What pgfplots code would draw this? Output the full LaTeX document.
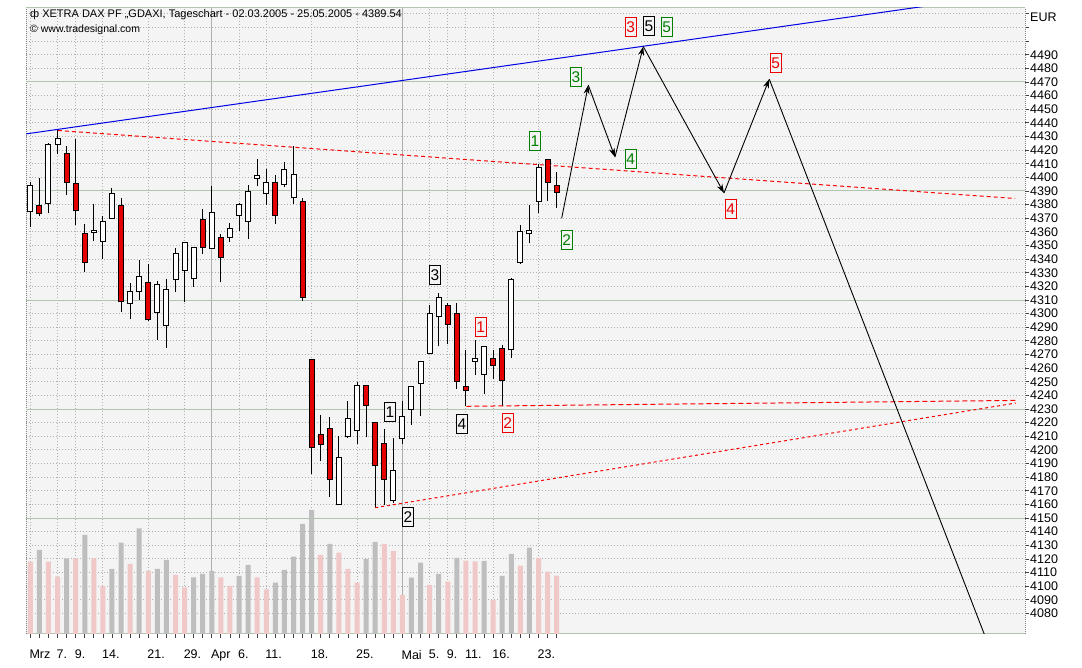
\documentclass[border=0pt]{standalone}
\usepackage{fontspec}
\setmainfont{Liberation Sans}
\usepackage{pgfplots}
\pgfplotsset{compat=1.18}
\usepackage{pgfplotstable}
\usetikzlibrary{arrows.meta}

\definecolor{plotbg}{RGB}{244,244,244}
\definecolor{gridgreen}{RGB}{176,196,176}
\definecolor{griddot}{RGB}{175,175,175}
\definecolor{vgrid}{RGB}{175,175,175}
\definecolor{volpink}{RGB}{240,200,200}
\definecolor{volgray}{RGB}{190,190,190}
\definecolor{candred}{RGB}{228,0,0}
\definecolor{waveblue}{RGB}{0,0,230}
\definecolor{wavegreen}{RGB}{0,128,0}
\definecolor{wavered}{RGB}{235,0,0}

% i = trading day (0 = 02.03.2005), O H L C
\pgfplotstableread{
i O H L C
0 4375.0 4396.6 4363.8 4393.5
1 4378.7 4399.8 4371.3 4373.7
2 4381.1 4424.9 4373.7 4423.7
3 4424.5 4435.1 4417.4 4428.3
4 4416.9 4423.2 4387.3 4396.6
5 4395.3 4428.3 4365.0 4375.7
6 4358.1 4365.6 4330.5 4337.9
7 4360.1 4380.4 4353.5 4360.7
8 4353.5 4371.3 4339.9 4367.6
9 4370.5 4392.3 4370.0 4387.8
10 4378.7 4384.8 4301.1 4309.1
11 4307.6 4322.4 4295.7 4315.7
12 4316.4 4339.6 4310.0 4326.8
13 4322.4 4336.7 4294.9 4295.7
14 4301.1 4324.3 4280.9 4320.9
15 4291.3 4325.6 4275.1 4317.4
16 4325.3 4347.8 4315.7 4344.1
17 4332.2 4352.2 4308.3 4352.2
18 4326.1 4347.8 4319.9 4347.8
19 4368.7 4376.7 4344.1 4349.0
20 4347.8 4393.5 4347.8 4373.7
21 4355.7 4358.1 4323.1 4341.6
22 4356.4 4366.8 4352.7 4362.4
23 4372.7 4381.1 4360.6 4379.6
24 4368.3 4394.3 4354.7 4389.3
25 4399.6 4413.6 4393.5 4401.1
26 4388.5 4405.8 4379.8 4395.8
27 4395.8 4402.1 4365.8 4372.2
28 4395.1 4411.1 4393.0 4405.6
29 4385.3 4423.2 4380.6 4401.8
30 4381.6 4384.8 4309.1 4312.0
31 4265.9 4265.9 4182.4 4202.1
32 4211.2 4225.5 4192.1 4204.5
33 4215.7 4224.3 4165.7 4178.4
34 4160.5 4210.5 4159.8 4193.8
35 4210.0 4235.6 4208.6 4222.9
36 4214.8 4250.1 4204.5 4247.2
37 4247.2 4247.2 4209.8 4233.1
38 4219.8 4219.8 4157.6 4189.1
39 4204.5 4215.7 4159.3 4178.4
40 4162.9 4208.6 4160.9 4184.8
41 4208.6 4235.6 4204.5 4224.1
42 4230.0 4245.8 4218.1 4245.8
43 4249.4 4264.7 4224.8 4264.7
44 4271.2 4306.4 4271.2 4299.8
45 4297.9 4315.0 4276.0 4311.3
46 4305.4 4307.6 4278.0 4292.5
47 4299.8 4307.6 4244.8 4250.9
48 4246.5 4273.6 4232.0 4244.0
49 4265.4 4280.9 4254.7 4266.9
50 4255.7 4275.6 4241.1 4275.6
51 4266.9 4273.6 4252.0 4262.2
52 4273.9 4277.3 4232.0 4251.3
53 4273.9 4326.1 4267.8 4324.8
54 4337.9 4365.0 4336.7 4360.1
55 4358.9 4379.8 4351.5 4360.9
56 4382.8 4409.8 4374.2 4406.8
57 4412.4 4413.6 4382.4 4396.6
58 4394.0 4404.1 4377.4 4389.54
}\candles

% volume (relative heights), g = 1 grey bar, 0 pink bar
\pgfplotstableread{
i v g
0 72.3 0
1 84.0 1
2 72.3 0
3 57.3 0
4 75.7 1
5 75.7 0
6 99.0 1
7 75.7 0
8 48.0 0
9 65.0 1
10 91.3 1
11 70.0 0
12 105.7 1
13 63.0 0
14 65.0 1
15 74.0 1
16 59.0 0
17 46.7 0
18 56.7 1
19 60.0 1
20 63.0 1
21 56.7 0
22 48.0 0
23 58.0 1
24 69.0 1
25 56.7 0
26 44.7 0
27 51.3 1
28 64.0 1
29 77.3 1
30 110.0 1
31 124.0 1
32 79.0 0
33 90.0 1
34 81.3 0
35 65.0 0
36 51.3 0
37 75.0 1
38 92.0 1
39 90.0 0
40 83.0 0
41 39.0 0
42 56.3 1
43 71.3 1
44 49.0 0
45 60.0 1
46 52.3 0
47 76.0 1
48 73.3 0
49 72.7 0
50 73.0 1
51 34.0 0
52 58.0 1
53 80.0 1
54 68.3 0
55 86.3 1
56 76.0 0
57 62.3 0
58 58.3 0
}\volume

\tikzset{wbox/.style={font=\fontsize{15.5}{15.5}\selectfont, inner xsep=1.2pt, inner ysep=4pt,
  text height=11pt, text depth=0pt, line width=1pt, fill=plotbg}}

\begin{document}
\begin{tikzpicture}[x=1pt,y=1pt]
\useasboundingbox (0,0) rectangle (1082,668);
\begin{axis}[at={(26pt,34pt)}, anchor=south west, scale only axis,
  width=999pt, height=626pt,
  xmin=-0.474, xmax=109.6,
  ymin=4064.9, ymax=4524.3,
  axis background/.style={fill=plotbg},
  separate axis lines,
  x axis line style={draw=gridgreen, line width=1pt},
  y axis line style={draw=gray, line width=1pt, dash pattern=on 1pt off 1pt},
  grid=major,
  major grid style={draw=griddot, dash pattern=on 1pt off 2pt, line width=1pt},
  xtick={0,3,5,8,13,17,20,23,26,31,36,41,44,46,48,51,56},
  xticklabels={Mrz,7.,9.,14.,21.,29.,Apr,6.,11.,18.,25.,Mai,5.,9.,11.,16.,23.},
  minor xtick={0,...,58},
  extra x ticks={20,41}, extra x tick labels={},
  extra x tick style={grid=major, major grid style={draw=vgrid, solid, line width=1pt}},
  ytick={4080,4090,...,4520},
  yticklabels={4080,4090,4100,4110,4120,4130,4140,4150,4160,4170,4180,4190,4200,4210,4220,4230,4240,4250,4260,4270,4280,4290,4300,4310,4320,4330,4340,4350,4360,4370,4380,4390,4400,4410,4420,4430,4440,4450,4460,4470,4480,4490,{},{},{}},
  extra y ticks={4150,4230,4310,4390,4470}, extra y tick labels={},
  extra y tick style={grid=major, major grid style={draw=gridgreen, solid, line width=1pt}},
  xtick pos=bottom, ytick pos=right, yticklabel pos=right,
  tick align=outside, major tick length=4pt, minor tick length=4pt,
  tick style={draw=black!75, line width=0.8pt},
  ticklabel style={font=\fontsize{12.5}{13}\selectfont},
  xticklabel style={anchor=north west, inner sep=0pt, xshift=-1pt, yshift=-12pt},
  yticklabel style={anchor=west, inner sep=0pt, xshift=1pt},
]
% wicks
\addplot[draw=none, mark=none, forget plot,
  error bars/.cd, y dir=plus, y explicit, error mark=none,
  error bar style={draw=black, line width=1pt, solid}]
  table[x=i, y=L, y error plus expr={\thisrow{H}-\thisrow{L}}] {\candles};
% white bodies
\addplot[draw=none, mark=none, forget plot,
  restrict expr to domain={\thisrow{C}-\thisrow{O}}{0:1000},
  error bars/.cd, y dir=plus, y explicit, error mark=none,
  error bar style={draw=black, line width=6pt, solid, shorten <=-1pt, shorten >=-1pt}]
  table[x=i, y=O, y error plus expr={\thisrow{C}-\thisrow{O}}] {\candles};
\addplot[draw=none, mark=none, forget plot,
  restrict expr to domain={\thisrow{C}-\thisrow{O}}{0:1000},
  error bars/.cd, y dir=plus, y explicit, error mark=none,
  error bar style={draw=white, line width=4pt, solid}]
  table[x=i, y=O, y error plus expr={\thisrow{C}-\thisrow{O}}] {\candles};
% red bodies
\addplot[draw=none, mark=none, forget plot,
  restrict expr to domain={\thisrow{C}-\thisrow{O}}{-1000:-0.0001},
  error bars/.cd, y dir=plus, y explicit, error mark=none,
  error bar style={draw=black, line width=6pt, solid, shorten <=-1pt, shorten >=-1pt}]
  table[x=i, y=C, y error plus expr={\thisrow{O}-\thisrow{C}}] {\candles};
\addplot[draw=none, mark=none, forget plot,
  restrict expr to domain={\thisrow{C}-\thisrow{O}}{-1000:-0.0001},
  error bars/.cd, y dir=plus, y explicit, error mark=none,
  error bar style={draw=candred, line width=4pt, solid}]
  table[x=i, y=C, y error plus expr={\thisrow{O}-\thisrow{C}}] {\candles};

% trend lines
\addplot[waveblue, line width=1pt] coordinates {(-0.474,4431.9) (109.6,4536.0)};
\addplot[red, line width=1pt, dash pattern=on 4pt off 3pt] coordinates {(3.05,4434.4) (108.5,4384.5)};
\addplot[red, line width=1pt, dash pattern=on 5pt off 3pt] coordinates {(48.04,4232.0) (108.6,4236.3)};
\addplot[red, line width=1pt, dash pattern=on 3pt off 3pt] coordinates {(38.01,4157.6) (108.6,4234.4)};

% projected path
\addplot[black, line width=0.9pt, -{Stealth[length=9pt,width=6pt]}] coordinates {(58.55,4370.0) (61.48,4467.7)};
\addplot[black, line width=0.9pt, -{Stealth[length=9pt,width=6pt]}] coordinates {(61.48,4467.7) (64.42,4414.9)};
\addplot[black, line width=0.9pt, -{Stealth[length=9pt,width=6pt]}] coordinates {(64.42,4414.9) (67.54,4496.0)};
\addplot[black, line width=0.9pt, -{Stealth[length=9pt,width=6pt]}] coordinates {(67.54,4496.0) (76.43,4388.5)};
\addplot[black, line width=0.9pt, -{Stealth[length=9pt,width=6pt]}] coordinates {(76.43,4388.5) (81.42,4472.1)};
\addplot[black, line width=0.9pt] coordinates {(81.42,4472.1) (105.39,4060.0)};

% wave labels
\node[wbox, draw=black, text=black] at (axis cs:44.59,4328.5) {3};
\node[wbox, draw=black, text=black] at (axis cs:39.63,4227.9) {1};
\node[wbox, draw=black, text=black] at (axis cs:47.57,4219.3) {4};
\node[wbox, draw=black, text=black] at (axis cs:41.62,4150.7) {2};
\node[wbox, draw=black, text=black] at (axis cs:68.17,4511.3) {5};
\node[wbox, draw=wavered, text=wavered] at (axis cs:49.62,4290.4) {1};
\node[wbox, draw=wavered, text=wavered] at (axis cs:52.60,4220.0) {2};
\node[wbox, draw=wavered, text=wavered] at (axis cs:66.15,4510.5) {3};
\node[wbox, draw=wavered, text=wavered] at (axis cs:77.17,4376.7) {4};
\node[wbox, draw=wavered, text=wavered] at (axis cs:82.13,4483.7) {5};
\node[wbox, draw=wavegreen, text=wavegreen] at (axis cs:55.61,4427.0) {1};
\node[wbox, draw=wavegreen, text=wavegreen] at (axis cs:59.10,4354.4) {2};
\node[wbox, draw=wavegreen, text=wavegreen] at (axis cs:60.13,4473.8) {3};
\node[wbox, draw=wavegreen, text=wavegreen] at (axis cs:66.15,4413.4) {4};
\node[wbox, draw=wavegreen, text=wavegreen] at (axis cs:70.12,4510.5) {5};
\end{axis}

\begin{axis}[at={(26pt,34pt)}, anchor=south west, scale only axis,
  width=999pt, height=626pt,
  xmin=-0.474, xmax=109.6, ymin=0, ymax=626,
  axis lines=none]
\addplot[ybar, bar width=5pt, bar shift=0pt, fill=volpink, draw=none,
  restrict expr to domain={\thisrow{g}}{-0.5:0.5}] table[x=i, y=v] {\volume};
\addplot[ybar, bar width=5pt, bar shift=0pt, fill=volgray, draw=none,
  restrict expr to domain={\thisrow{g}}{0.5:1.5}] table[x=i, y=v] {\volume};
\end{axis}

\node[anchor=west, inner sep=0pt, font=\fontsize{11}{13}\selectfont] at (30,653)
  {ф XETRA DAX PF ,,GDAXI, Tageschart - 02.03.2005 - 25.05.2005 - 4389.54};
\node[anchor=west, inner sep=0pt, font=\fontsize{10.5}{12}\selectfont] at (30,638)
  {© www.tradesignal.com};
\node[anchor=west, inner sep=0pt, font=\fontsize{12.5}{13}\selectfont] at (1030,651) {EUR};
\end{tikzpicture}
\end{document}
